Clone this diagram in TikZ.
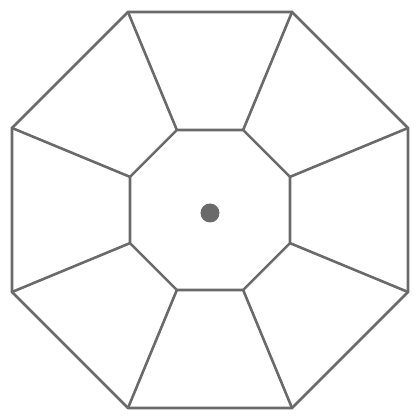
\documentclass[tikz,border=0pt]{standalone}
\usetikzlibrary{positioning}
\definecolor{rimgray}{HTML}{6A6A6A}

\begin{document}
\begin{tikzpicture}[
            x=1pt, y=1pt,
            rimline/.style={draw=rimgray, line width=2.6pt, line join=miter},
            hubdot/.style={circle, fill=rimgray, minimum size=19pt, inner sep=0pt},
            ]
            \useasboundingbox (-210,-210) rectangle (210,210);
            % corners of the rim and of the hub
            \foreach \k in {1,...,8} {
                \coordinate (o\k) at ({22.5+45*\k}:214.3);
                \coordinate (i\k) at ({22.5+45*\k}:86.6);
            }
            \draw[rimline] (o1) -- (o2) -- (o3) -- (o4) -- (o5) -- (o6) -- (o7) -- (o8) -- cycle;
            \draw[rimline] (i1) -- (i2) -- (i3) -- (i4) -- (i5) -- (i6) -- (i7) -- (i8) -- cycle;
            % spokes
            \foreach \k in {1,...,8}
                \draw[rimline] (o\k) -- (i\k);
            \node[hubdot] (hub) at (0,-3) {};
        \end{tikzpicture}
\end{document}
